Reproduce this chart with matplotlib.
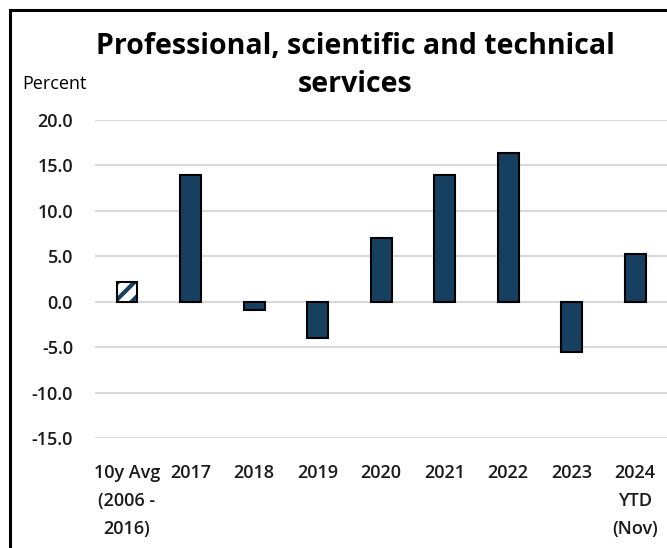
import matplotlib
matplotlib.use("Agg")
import matplotlib.pyplot as plt
from matplotlib.lines import Line2D

categories = ["10y Avg\n(2006 -\n2016)", "2017", "2018", "2019", "2020", "2021", "2022", "2023", "2024\nYTD\n(Nov)"]
values = [2.2, 14.0, -0.9, -4.0, 7.0, 13.9, 16.4, -5.5, 5.2]
yticks = [-15, -10, -5, 0, 5, 10, 15, 20]

navy = "#163f60"
plt.rcParams['font.family'] = ['Open Sans', 'DejaVu Sans']
plt.rcParams['hatch.linewidth'] = 3.0

fig = plt.figure(figsize=(6.67, 5.48), dpi=100)
ax = fig.add_axes([95.25 / 667, 1 - 438 / 548, 1 - 95.25 / 667, (438 - 120) / 548])

x = list(range(len(categories)))
w = 0.33
for i, v in enumerate(values):
    if i == 0:
        ax.bar(i, v, width=w, color="white", edgecolor=navy, hatch="//", linewidth=0, zorder=3)
        ax.bar(i, v, width=w, color="none", edgecolor="black", linewidth=1.5, zorder=4)
    else:
        ax.bar(i, v, width=w, color=navy, edgecolor="black", linewidth=1.5, zorder=3)

ax.set_xlim(-0.5, len(categories) - 0.5)
ax.set_ylim(-15, 20)
ax.set_yticks(yticks)
ax.set_yticklabels([f"{t:.1f}" for t in yticks], fontsize=13, fontweight="semibold", color="#1a1a1a")
ax.set_xticks(x)
ax.set_xticklabels(categories, fontsize=13, fontweight="semibold", color="#1a1a1a", linespacing=1.7, va="top")
ax.tick_params(axis="both", length=0)
ax.tick_params(axis="y", pad=16)
ax.tick_params(axis="x", pad=19)
ax.yaxis.grid(True, color="#d9d9d9", linewidth=1.5, zorder=0)
for s in ax.spines.values():
    s.set_visible(False)

fig.text(355 / 667, 1 - 46 / 548, "Professional, scientific and technical", ha="center", va="center",
         fontsize=20.5, fontweight="bold", color="black")
fig.text(355 / 667, 1 - 85 / 548, "services", ha="center", va="center",
         fontsize=20.5, fontweight="bold", color="black")
fig.text(22 / 667, 1 - 84 / 548, "Percent", ha="left", va="center", fontsize=13, color="black")

# outer frame (left and top visible)
fig.add_artist(Line2D([10 / 667, 10 / 667], [0, 1 - 10 / 548], color="black", linewidth=2.2, transform=fig.transFigure))
fig.add_artist(Line2D([10 / 667, 1], [1 - 10 / 548, 1 - 10 / 548], color="black", linewidth=2.2, transform=fig.transFigure))

fig.savefig("out.png", dpi=100)
